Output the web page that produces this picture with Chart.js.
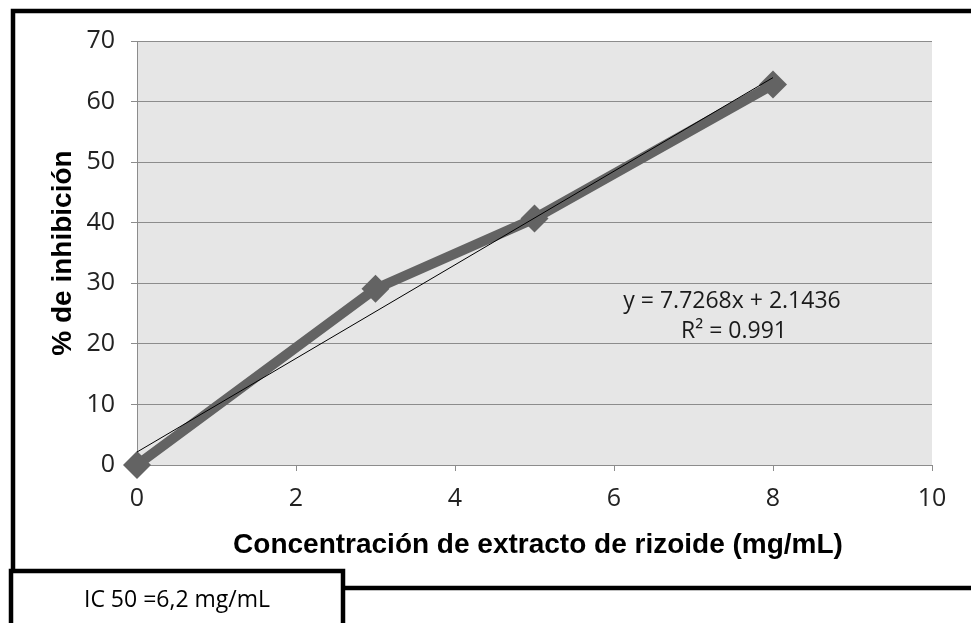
<!DOCTYPE html>
<html>
<head>
<meta charset="utf-8">
<script src="https://cdn.jsdelivr.net/npm/chart.js@4/dist/chart.umd.min.js"></script>
<style>
  html, body { margin: 0; padding: 0; background: #ffffff; }
  #wrap { position: relative; width: 971px; height: 623px; overflow: hidden; }
  canvas { position: absolute; left: 0; top: 0; }
</style>
</head>
<body>
<div id="wrap"><canvas id="c" width="971" height="623"></canvas></div>
<script>
// ---- data ----
const concentrations = [0, 3, 5, 8];
const inhibition = [0, 29.1, 40.7, 62.8];
const xTicks = [0, 2, 4, 6, 8, 10];
const yTicks = [0, 10, 20, 30, 40, 50, 60, 70];
const trendSlope = 7.7268;
const trendIntercept = 2.1436;
const trendRange = [0, 8];
const equationText = 'y = 7.7268x + 2.1436';
const r2Text = 'R² = 0.991';
const xTitle = 'Concentración de extracto de rizoide (mg/mL)';
const yTitle = '% de inhibición';
const noteText = 'IC 50 =6,2 mg/mL';

const seriesPoints = concentrations.map((x, i) => ({ x: x, y: inhibition[i] }));
const trendPoints = trendRange.map(x => ({ x: x, y: trendSlope * x + trendIntercept }));

const tickFont = { family: 'Open Sans', size: 25 };

const decor = {
  id: 'decor',
  beforeDraw(chart) {
    const { ctx, chartArea: a } = chart;
    ctx.save();
    ctx.fillStyle = '#e6e6e6';
    ctx.fillRect(a.left, a.top, a.right - a.left, a.bottom - a.top);
    ctx.restore();
  },
  afterDraw(chart) {
    const { ctx } = chart;
    ctx.save();
    // equation text
    ctx.fillStyle = '#1a1a1a';
    ctx.font = '23px "Open Sans"';
    ctx.textAlign = 'center';
    ctx.textBaseline = 'middle';
    ctx.fillText(equationText, 732, 301);
    ctx.fillText(r2Text, 734, 331);
    // axis titles
    ctx.fillStyle = '#000';
    ctx.font = 'bold 28px "Liberation Sans"';
    ctx.fillText(xTitle, 538, 545);
    ctx.save();
    ctx.translate(63, 253);
    ctx.rotate(-Math.PI / 2);
    ctx.fillText(yTitle, 0, 0);
    ctx.restore();
    // frame
    ctx.strokeStyle = '#000';
    ctx.lineWidth = 4.5;
    ctx.beginPath();
    ctx.moveTo(13, 571);
    ctx.lineTo(13, 11);
    ctx.lineTo(975, 11);
    ctx.stroke();
    ctx.beginPath();
    ctx.moveTo(343, 588);
    ctx.lineTo(975, 588);
    ctx.stroke();
    ctx.beginPath();
    ctx.moveTo(11, 640);
    ctx.lineTo(11, 571);
    ctx.lineTo(343, 571);
    ctx.lineTo(343, 640);
    ctx.stroke();
    // note
    ctx.fillStyle = '#000';
    ctx.font = '23px "Open Sans"';
    ctx.fillText(noteText, 177, 600);
    ctx.restore();
  }
};

new Chart(document.getElementById('c'), {
  type: 'scatter',
  data: {
    datasets: [
      {
        type: 'line',
        data: trendPoints,
        borderColor: '#000000',
        borderWidth: 1,
        pointRadius: 0,
        fill: false,
        clip: false,
        order: 0
      },
      {
        type: 'line',
        data: seriesPoints,
        borderColor: '#636363',
        backgroundColor: '#636363',
        borderWidth: 10,
        pointStyle: 'rectRot',
        pointRadius: 14,
        pointBorderWidth: 0,
        pointBackgroundColor: '#636363',
        fill: false,
        clip: false,
        tension: 0,
        order: 1
      }
    ]
  },
  options: {
    responsive: false,
    animation: false,
    events: [],
    layout: { padding: { left: 0, top: 41, right: 39, bottom: 0 } },
    plugins: { legend: { display: false }, tooltip: { enabled: false } },
    scales: {
      x: {
        type: 'linear',
        min: 0, max: 10,
        afterBuildTicks(s) { s.ticks = xTicks.map(v => ({ value: v })); },
        afterFit(s) { s.height = 158; },
        grid: { display: true, drawOnChartArea: false, tickLength: 6, color: '#8c8c8c', lineWidth: 1 },
        border: { display: true, color: '#8c8c8c', width: 1 },
        ticks: { font: tickFont, color: '#222', padding: 13, maxRotation: 0 }
      },
      y: {
        type: 'linear',
        min: 0, max: 70,
        afterBuildTicks(s) { s.ticks = yTicks.map(v => ({ value: v })); },
        afterFit(s) { s.width = 137; },
        grid: { display: true, drawOnChartArea: true, tickLength: 6, color: '#8c8c8c', lineWidth: 1 },
        border: { display: true, color: '#8c8c8c', width: 1 },
        ticks: { font: tickFont, color: '#222', padding: 16 }
      }
    }
  },
  plugins: [decor]
});
</script>
</body>
</html>
